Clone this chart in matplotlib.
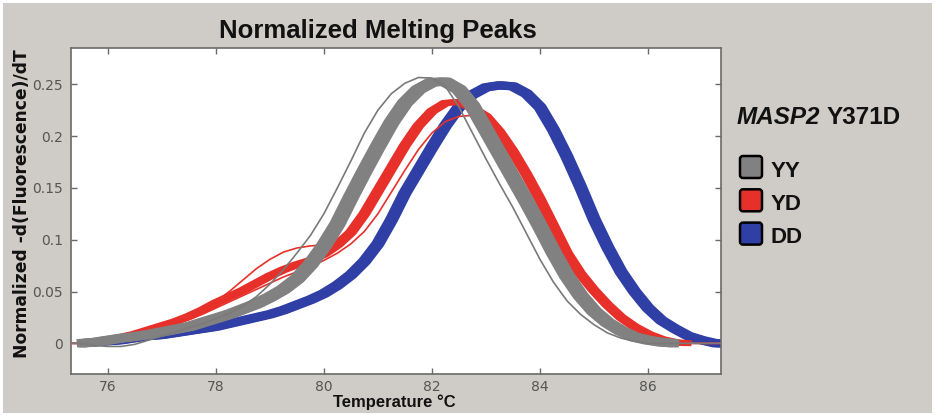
import matplotlib
matplotlib.use('Agg')
import matplotlib.pyplot as plt
from matplotlib.patches import FancyBboxPatch, Rectangle
from matplotlib.transforms import IdentityTransform, offset_copy

nan = float('nan')

# ---------------- data ----------------
temperature = [75.25, 75.50, 75.75, 76.00, 76.25, 76.50, 76.75, 77.00, 77.25, 77.50,
               77.75, 78.00, 78.25, 78.50, 78.75, 79.00, 79.25, 79.50, 79.75, 80.00,
               80.25, 80.50, 80.75, 81.00, 81.25, 81.50, 81.75, 82.00, 82.25, 82.50,
               82.75, 83.00, 83.25, 83.50, 83.75, 84.00, 84.25, 84.50, 84.75, 85.00,
               85.25, 85.50, 85.75, 86.00, 86.25, 86.50, 86.75, 87.00, 87.25, 87.50]

# YY genotype: main replicate band and one early-melting replicate
yy_main = [nan, 0, 0.001, 0.003, 0.005, 0.0065, 0.0085, 0.011, 0.0135, 0.016,
           0.020, 0.024, 0.028, 0.033, 0.038, 0.0445, 0.052, 0.062, 0.076, 0.094,
           0.115, 0.141, 0.166, 0.190, 0.213, 0.232, 0.245, 0.252, 0.2525, 0.245,
           0.229, 0.206, 0.183, 0.160, 0.137, 0.113, 0.088, 0.065, 0.046, 0.031,
           0.020, 0.012, 0.006, 0.003, 0.001, 0, nan, nan, nan, nan]
yy_early = [0, 0, -0.002, -0.003, -0.003, -0.001, 0.003, 0.007, 0.011, 0.015,
            0.019, 0.024, 0.029, 0.036, 0.045, 0.057, 0.071, 0.087, 0.104, 0.125,
            0.150, 0.176, 0.203, 0.225, 0.241, 0.251, 0.2565, 0.256, 0.248, 0.228,
            0.203, 0.178, 0.154, 0.131, 0.106, 0.081, 0.059, 0.041, 0.028, 0.018,
            0.010, 0.005, 0.002, 0, 0, 0, 0, 0, 0, 0]

# YD genotype: main band, replicate with low-temperature shoulder, low-peak replicate
yd_main = [nan, 0, 0.001, 0.003, 0.006, 0.009, 0.013, 0.017, 0.021, 0.026,
           0.032, 0.039, 0.045, 0.051, 0.058, 0.065, 0.071, 0.076, 0.080, 0.086,
           0.095, 0.107, 0.125, 0.147, 0.169, 0.191, 0.210, 0.224, 0.232, 0.233,
           0.227, 0.219, 0.204, 0.185, 0.163, 0.139, 0.113, 0.087, 0.067, 0.051,
           0.037, 0.025, 0.016, 0.009, 0.004, 0.001, 0, nan, nan, nan]
yd_shoulder = [0, 0, 0.001, 0.003, 0.006, 0.009, 0.013, 0.017, 0.021, 0.026,
               0.032, 0.040, 0.050, 0.061, 0.072, 0.081, 0.088, 0.092, 0.094, 0.095,
               0.100, 0.111, 0.128, 0.149, 0.170, 0.191, 0.209, 0.222, 0.230, 0.232,
               0.227, 0.217, 0.203, 0.185, 0.164, 0.141, 0.116, 0.091, 0.070, 0.053,
               0.039, 0.027, 0.017, 0.010, 0.005, 0.002, 0, 0, 0, 0]
yd_low = [0, 0, 0.001, 0.002, 0.005, 0.008, 0.011, 0.015, 0.019, 0.023,
          0.028, 0.034, 0.040, 0.046, 0.052, 0.058, 0.064, 0.069, 0.074, 0.080,
          0.087, 0.096, 0.108, 0.125, 0.146, 0.167, 0.187, 0.203, 0.214, 0.219,
          0.220, 0.215, 0.205, 0.190, 0.169, 0.145, 0.118, 0.093, 0.072, 0.055,
          0.040, 0.028, 0.018, 0.011, 0.006, 0.002, 0, 0, 0, 0]

# DD genotype: main band
dd_main = [nan, 0, 0.001, 0.002, 0.003, 0.005, 0.007, 0.008, 0.010, 0.012,
           0.014, 0.016, 0.019, 0.022, 0.025, 0.028, 0.032, 0.037, 0.042, 0.048,
           0.056, 0.066, 0.079, 0.096, 0.119, 0.145, 0.167, 0.189, 0.210, 0.228,
           0.240, 0.247, 0.249, 0.248, 0.241, 0.228, 0.206, 0.180, 0.151, 0.120,
           0.093, 0.069, 0.050, 0.034, 0.022, 0.014, 0.007, 0.003, 0, 0]

x_ticks = [76, 78, 80, 82, 84, 86]
y_ticks = [0, 0.05, 0.1, 0.15, 0.2, 0.25]
y_tick_labels = ['0', '0.05', '0.1', '0.15', '0.2', '0.25']
genotypes = ['YY', 'YD', 'DD']
legend_title_gene = 'MASP2'
legend_title_variant = 'Y371D'

# ---------------- style ----------------
GRAY = '#818181'
GRAY_THIN = '#7a7a7a'
RED = '#e8302b'
BLUE = '#2f3fa6'
BG = '#cfccc7'
genotype_colors = [GRAY, RED, BLUE]

plt.rcParams['font.family'] = ['Liberation Sans Narrow', 'DejaVu Sans']

W, H = 935, 415
fig = plt.figure(figsize=(W / 100, H / 100), dpi=100, facecolor='white')
fig.patches.append(Rectangle((3 / W, 2 / H), (W - 6) / W, (H - 5) / H,
                             transform=fig.transFigure, facecolor=BG,
                             edgecolor='none', zorder=-5))

ax = fig.add_axes([71 / W, 1 - 374 / H, (721 - 71) / W, (374 - 48) / H])
ax.set_facecolor('white')


def band(y, color, lw, shifts, z):
    # a replicate band: the curve stroked a few times with small pixel shifts
    for dx in shifts:
        tr = offset_copy(ax.transData, fig=fig, x=dx, y=0, units='dots')
        ax.plot(temperature, y, color=color, lw=lw, transform=tr,
                solid_joinstyle='round', solid_capstyle='butt', zorder=z)


band(dd_main, BLUE, 5.8, [-2.5, 0, 2.5], 2)
ax.plot(temperature, yd_low, color=RED, lw=1.2, solid_joinstyle='round', zorder=3)
band(yd_main, RED, 4.2, [-3, 0, 3], 3)
ax.plot(temperature, yd_shoulder, color=RED, lw=1.2, solid_joinstyle='round', zorder=3)
band(yy_main, GRAY, 6.0, [-4, -1.5, 1.5, 4], 4)
ax.plot(temperature, yy_early, color=GRAY_THIN, lw=1.2, solid_joinstyle='round', zorder=4)

ax.set_xlim(75.32, 87.35)
ax.set_ylim(-0.0296, 0.285)
ax.set_xticks(x_ticks)
ax.set_xticklabels([str(t) for t in x_ticks])
ax.set_yticks(y_ticks)
ax.set_yticklabels(y_tick_labels)
ax.tick_params(direction='in', length=4, width=1, color='#6a6a6a',
               labelcolor='#555555', labelsize=10, top=True, right=True)
ax.tick_params(axis='x', pad=4)
ax.tick_params(axis='y', pad=6)
for s in ax.spines.values():
    s.set_color('#6a6a6a')
    s.set_linewidth(1.2)

bold = ['Liberation Sans', 'DejaVu Sans']
fig.text(378 / W, 1 - 38 / H, 'Normalized Melting Peaks', ha='center', va='baseline',
         fontsize=18.5, fontweight='bold', family=bold, color='#111111')
fig.text(394 / W, 1 - 407 / H, 'Temperature °C', ha='center', va='baseline',
         fontsize=12, fontweight='bold', family=bold, color='#111111')
fig.text(22 / W, 1 - 204 / H, 'Normalized -d(Fluorescence)/dT', rotation=90,
         ha='center', va='center', fontsize=12.3, fontweight='bold',
         family=['DejaVu Sans'], color='#111111')

# legend
t1 = fig.text(737 / W, 1 - 124 / H, legend_title_gene, ha='left', va='baseline',
              fontsize=17.5, fontweight='bold', style='italic', family=bold, color='#111111')
fig.canvas.draw()
bb = t1.get_window_extent(renderer=fig.canvas.get_renderer())
fig.text((bb.x1 + 6) / W, 1 - 124 / H, legend_title_variant, ha='left', va='baseline',
         fontsize=17.5, fontweight='bold', family=bold, color='#111111')

for i, (g, c) in enumerate(zip(genotypes, genotype_colors)):
    yc = 167 + i * 33.3
    box = FancyBboxPatch((740, H - yc - 11), 22, 22,
                         boxstyle='round,pad=0,rounding_size=3',
                         facecolor=c, edgecolor='black', linewidth=1.8,
                         transform=IdentityTransform())
    fig.patches.append(box)
    fig.text(771 / W, 1 - (yc + 9.5) / H, g, ha='left', va='baseline',
             fontsize=16, fontweight='bold', family=bold, color='#111111')

fig.savefig('out.png', dpi=100, facecolor=fig.get_facecolor())
